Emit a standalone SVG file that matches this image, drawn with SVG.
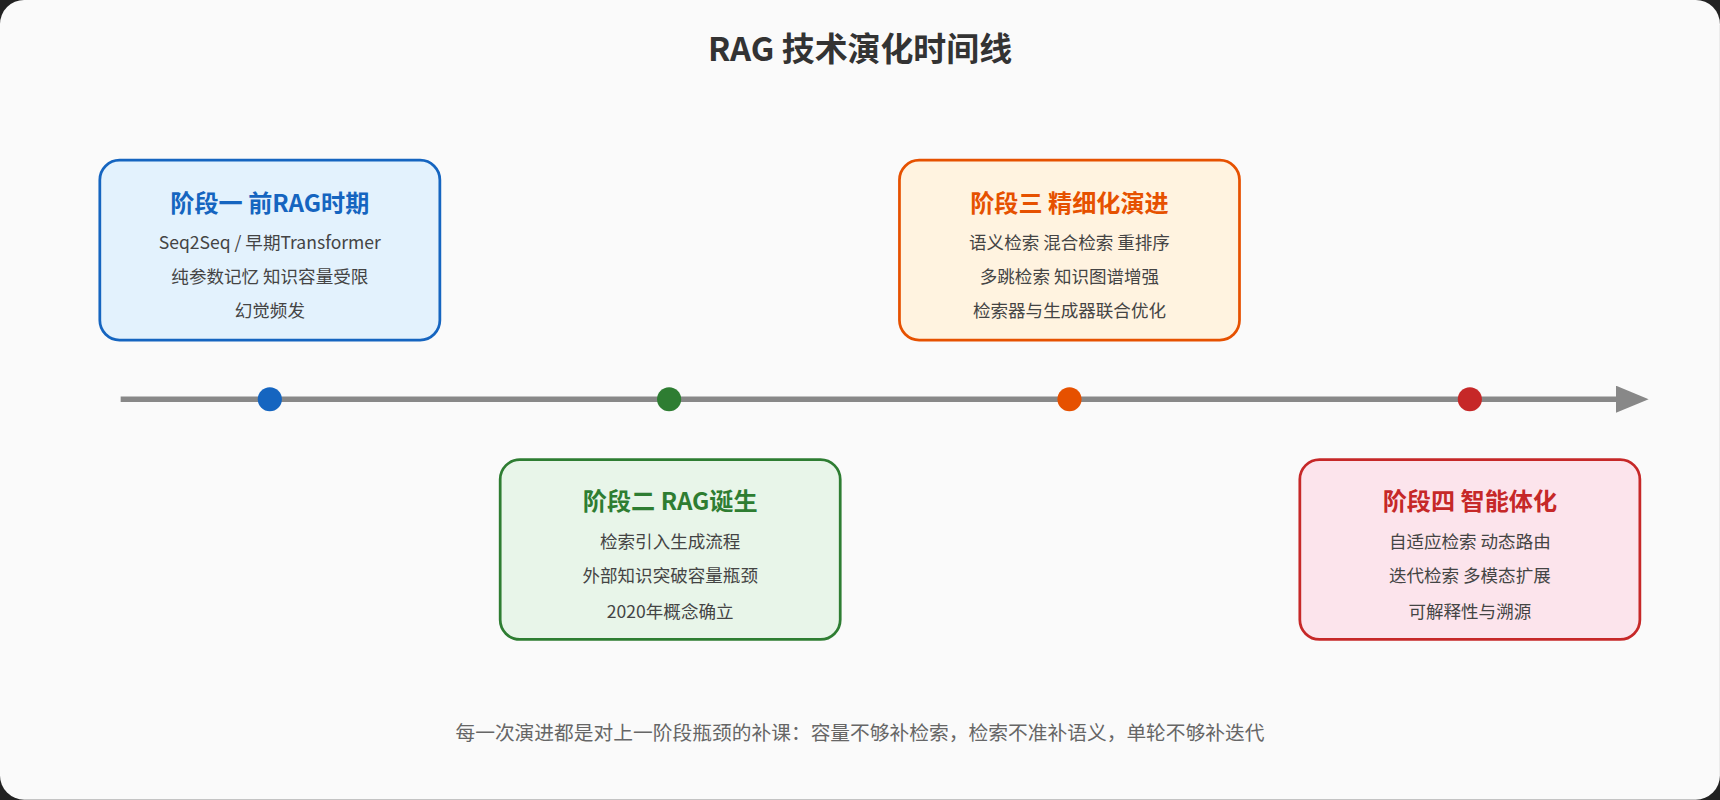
<svg xmlns="http://www.w3.org/2000/svg" width="1720" height="800" viewBox="0 0 1720 800">
<style>
text{font-family:"Noto Sans CJK SC","Noto Sans",sans-serif;text-anchor:middle}
.t{font-size:30px;font-weight:bold;fill:#333}
.h{font-size:22px;font-weight:bold}
.b{font-size:16px;fill:#444}
.f{font-size:18px;fill:#666}
</style>
<defs><marker id="ar" markerWidth="6" markerHeight="5" refX="1" refY="2.5" orient="auto" markerUnits="strokeWidth"><path d="M0,0L6,2.5L0,5z" fill="#888"/></marker></defs>
<rect width="1720" height="800" fill="#222"/>
<g transform="scale(1.0969)">
<rect x="0" y="0" width="1568" height="729" rx="22" fill="#fafafa"/>
<text class="t" x="784" y="56">RAG 技术演化时间线</text>
<g id="connectors"><line x1="110" y1="364" x2="1478" y2="364" stroke="#888" stroke-width="5" marker-end="url(#ar)"/></g>
<g id="dots">
<circle cx="246" cy="364" r="11" fill="#1565c0"/>
<circle cx="610" cy="364" r="11" fill="#2e7d32"/>
<circle cx="975" cy="364" r="11" fill="#e65100"/>
<circle cx="1340" cy="364" r="11" fill="#c62828"/>
</g>
<g id="stage1"><rect x="91" y="146" width="310" height="164" rx="18" fill="#e3f2fd" stroke="#1565c0" stroke-width="2.5"/>
<text class="h" x="246" y="193" fill="#1565c0">阶段一 前RAG时期</text>
<text class="b" x="246" y="227">Seq2Seq / 早期Transformer</text>
<text class="b" x="246" y="258">纯参数记忆 知识容量受限</text>
<text class="b" x="246" y="289">幻觉频发</text></g>
<g id="stage2"><rect x="456" y="419" width="310" height="164" rx="18" fill="#e8f5e9" stroke="#2e7d32" stroke-width="2.5"/>
<text class="h" x="611" y="465" fill="#2e7d32">阶段二 RAG诞生</text>
<text class="b" x="611" y="500">检索引入生成流程</text>
<text class="b" x="611" y="531">外部知识突破容量瓶颈</text>
<text class="b" x="611" y="563">2020年概念确立</text></g>
<g id="stage3"><rect x="820" y="146" width="310" height="164" rx="18" fill="#fff3e0" stroke="#e65100" stroke-width="2.5"/>
<text class="h" x="975" y="193" fill="#e65100">阶段三 精细化演进</text>
<text class="b" x="975" y="227">语义检索 混合检索 重排序</text>
<text class="b" x="975" y="258">多跳检索 知识图谱增强</text>
<text class="b" x="975" y="289">检索器与生成器联合优化</text></g>
<g id="stage4"><rect x="1185" y="419" width="310" height="164" rx="18" fill="#fce4ec" stroke="#c62828" stroke-width="2.5"/>
<text class="h" x="1340" y="465" fill="#c62828">阶段四 智能体化</text>
<text class="b" x="1340" y="500">自适应检索 动态路由</text>
<text class="b" x="1340" y="531">迭代检索 多模态扩展</text>
<text class="b" x="1340" y="563">可解释性与溯源</text></g>
<text class="f" x="784" y="675">每一次演进都是对上一阶段瓶颈的补课：容量不够补检索，检索不准补语义，单轮不够补迭代</text>
</g>
</svg>
